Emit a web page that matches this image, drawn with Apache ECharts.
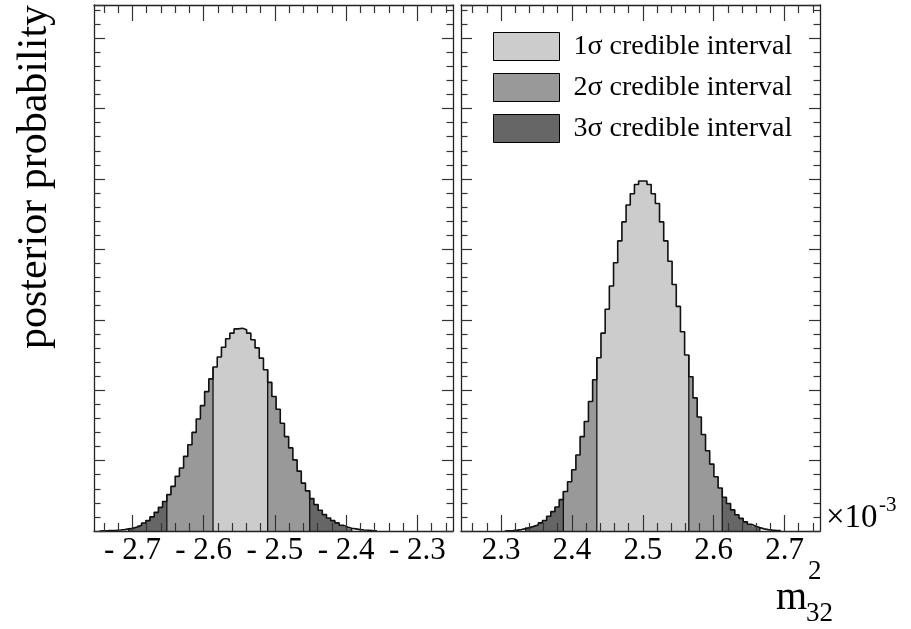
<!DOCTYPE html>
<html>
<head>
<meta charset="utf-8">
<script src="https://cdn.jsdelivr.net/npm/echarts@6/dist/echarts.min.js"></script>
<style>
  html, body { margin: 0; padding: 0; background: #fff; }
  #chart { width: 911px; height: 629px; }
</style>
</head>
<body>
<div id="chart"></div>
<script>
// Posterior of m^2_32 (units of 1e-3), inverted (left) and normal (right) branch
const binWidth = 0.0059;
const leftBinStart = -2.7462;
const rightBinStart = 2.3053;

const leftHeights = [
  0.004, 0.005, 0.007, 0.01, 0.014, 0.02, 0.03, 0.038, 0.058, 0.081, 0.114, 0.147, 0.20, 0.265,
  0.336, 0.42, 0.516, 0.634, 0.776, 0.895, 1.06, 1.225, 1.40, 1.59, 1.78, 1.98, 2.16,
  2.33, 2.47, 2.61, 2.73, 2.81, 2.87, 2.88, 2.857, 2.81, 2.715, 2.60, 2.455, 2.29,
  2.11, 1.91, 1.73, 1.53, 1.34, 1.18, 1.01, 0.85, 0.68, 0.57,
  0.46, 0.375, 0.295, 0.233, 0.185, 0.147, 0.115, 0.081, 0.058, 0.038, 0.03, 0.02, 0.014, 0.01, 0.006, 0.004
];
const rightHeights = [
  0.004, 0.006, 0.012, 0.02, 0.034, 0.048, 0.067, 0.086, 0.115, 0.15, 0.21, 0.275, 0.34, 0.445,
  0.56, 0.70, 0.87, 1.08, 1.34, 1.556, 1.84, 2.147, 2.46, 2.81, 3.15, 3.48, 3.81, 4.12, 4.39, 4.63, 4.79, 4.92, 4.97,
  4.97, 4.92, 4.79, 4.65, 4.39, 4.12, 3.83, 3.50, 3.19, 2.83, 2.50, 2.19, 1.89, 1.62, 1.37, 1.14,
  0.95, 0.77, 0.61, 0.48, 0.39, 0.30, 0.23, 0.18, 0.13, 0.095, 0.067, 0.048, 0.03, 0.02, 0.013, 0.008, 0.005
];

// Credible interval bounds [low, high]
const leftSigma1 = [-2.5869, -2.5102];
const leftSigma2 = [-2.6518, -2.4512];
const leftSigma3 = [-2.7049, -2.3922];
const rightSigma1 = [2.4351, 2.5649];
const rightSigma2 = [2.3879, 2.6121];
const rightSigma3 = [2.3348, 2.6652];

// Axis ranges and ticks
const leftRange = [-2.754, -2.25];
const rightRange = [2.2435, 2.75];
const leftTicks = [-2.7, -2.6, -2.5, -2.4, -2.3];
const rightTicks = [2.3, 2.4, 2.5, 2.6, 2.7];
const leftMinorTicks = [-2.74, -2.72, -2.68, -2.66, -2.64, -2.62, -2.58, -2.56, -2.54, -2.52,
  -2.48, -2.46, -2.44, -2.42, -2.38, -2.36, -2.34, -2.32, -2.28, -2.26];
const rightMinorTicks = [2.26, 2.28, 2.32, 2.34, 2.36, 2.38, 2.42, 2.44, 2.46, 2.48,
  2.52, 2.54, 2.56, 2.58, 2.62, 2.64, 2.66, 2.68, 2.72, 2.74];
const yRange = [0, 7.47];

const seriesNames = ['1σ credible interval', '2σ credible interval', '3σ credible interval'];
const fillColors = ['#cccccc', '#999999', '#666666', '#ffffff'];

const FONT = 'Liberation Serif';
const INK = '#111';

function regionOf(c, s1, s2, s3) {
  if (c > s1[0] && c < s1[1]) return 0;
  if (c > s2[0] && c < s2[1]) return 1;
  if (c > s3[0] && c < s3[1]) return 2;
  return 3;
}

// one filled bin; edges snapped outward to whole pixels so neighbours leave no seam
function binRect(params, api) {
  const p0 = api.coord([api.value(0), 0]);
  const p1 = api.coord([api.value(1), api.value(2)]);
  const xl = Math.floor(p0[0]), xr = Math.ceil(p1[0]);
  return {
    type: 'rect',
    shape: { x: xl, y: p1[1], width: xr - xl, height: p0[1] - p1[1] },
    style: { fill: api.visual('color') }
  };
}

function edgeLine(params, api) {
  const a = api.coord([api.value(0), 0]);
  const b = api.coord([api.value(0), api.value(1)]);
  return {
    type: 'line',
    shape: { x1: a[0], y1: a[1], x2: b[0], y2: b[1] },
    style: { stroke: INK, lineWidth: 1.3 }
  };
}

function panelSeries(p, start, heights, s1, s2, s3) {
  const out = [];
  const groups = [[], [], [], []];
  heights.forEach((h, i) => {
    const x0 = start + i * binWidth, x1 = x0 + binWidth;
    groups[regionOf((x0 + x1) / 2, s1, s2, s3)].push([x0, x1, h]);
  });
  // draw outer regions first so inner ones cover shared pixels
  [3, 2, 1, 0].forEach(g => {
    out.push({
      type: 'custom',
      name: g < 3 ? seriesNames[g] : 'outside',
      xAxisIndex: 4 * p, yAxisIndex: 2 * p,
      renderItem: binRect,
      itemStyle: { color: fillColors[g], borderColor: '#000', borderWidth: 1 },
      encode: { x: [0, 1], y: 2 },
      data: groups[g], z: 1, silent: true, clip: true
    });
  });
  // histogram outline
  const n = heights.length;
  const outline = [[start, 0]];
  heights.forEach((h, i) => outline.push([start + i * binWidth, h]));
  outline.push([start + n * binWidth, heights[n - 1]]);
  outline.push([start + n * binWidth, 0]);
  out.push({
    type: 'line', step: 'end', data: outline, symbol: 'none', silent: true,
    xAxisIndex: 4 * p, yAxisIndex: 2 * p, z: 3,
    lineStyle: { color: INK, width: 1.6 }
  });
  // vertical lines at interval boundaries
  const edges = [s1[0], s1[1], s2[0], s2[1], s3[0], s3[1]].map(e => {
    const k = Math.round((e - start) / binWidth);
    return [e, Math.max(heights[k - 1] || 0, heights[k] || 0)];
  });
  out.push({
    type: 'custom', renderItem: edgeLine, data: edges, silent: true,
    xAxisIndex: 4 * p, yAxisIndex: 2 * p, z: 3, encode: { x: 0, y: 1 }
  });
  return out;
}

function xAxes(p, range, ticks, minors) {
  const base = {
    gridIndex: p, type: 'value', min: range[0], max: range[1], z: 10,
    splitLine: { show: false }
  };
  const line = { show: true, onZero: false, lineStyle: { color: '#222', width: 1.3 } };
  const tickStyle = { color: '#333', width: 1.2 };
  const fmt = v => (v < 0 ? '- ' + Math.abs(v).toFixed(1) : v.toFixed(1));
  return [
    Object.assign({}, base, {
      position: 'bottom', axisLine: line,
      axisTick: { show: true, inside: true, length: 16, customValues: ticks, lineStyle: tickStyle },
      axisLabel: { show: true, customValues: ticks, formatter: fmt, margin: 4,
        fontFamily: FONT, fontSize: 31, color: '#000' }
    }),
    Object.assign({}, base, {
      position: 'bottom', axisLine: { show: false, onZero: false },
      axisTick: { show: true, inside: true, length: 8, customValues: minors, lineStyle: tickStyle },
      axisLabel: { show: false }
    }),
    Object.assign({}, base, {
      position: 'top', axisLine: line,
      axisTick: { show: true, inside: true, length: 16, customValues: ticks, lineStyle: tickStyle },
      axisLabel: { show: false }
    }),
    Object.assign({}, base, {
      position: 'top', axisLine: { show: false, onZero: false },
      axisTick: { show: true, inside: true, length: 8, customValues: minors, lineStyle: tickStyle },
      axisLabel: { show: false }
    })
  ];
}

function yAxes(p) {
  const make = pos => ({
    gridIndex: p, type: 'value', position: pos, min: yRange[0], max: yRange[1], interval: 1, z: 10,
    axisLine: { show: true, onZero: false, lineStyle: { color: '#222', width: 1.3 } },
    axisTick: { show: true, inside: true, length: 11, lineStyle: { color: '#333', width: 1.2 } },
    minorTick: { show: true, splitNumber: 5, length: 6.5, lineStyle: { color: '#333', width: 1.2 } },
    axisLabel: { show: false },
    splitLine: { show: false }
  });
  return [make('left'), make('right')];
}

const chart = echarts.init(document.getElementById('chart'), null, { renderer: 'canvas' });

const textEl = (text, x, y, size, extra) => Object.assign({
  type: 'text', x: x, y: y, silent: true,
  style: { text: text, font: size + 'px "' + FONT + '"', fill: '#000',
    textAlign: 'left', textVerticalAlign: 'middle', align: 'left', verticalAlign: 'middle' }
}, extra || {});

chart.setOption({
  animation: false,
  backgroundColor: '#fff',
  grid: [
    { left: 94, top: 5, width: 359, height: 526 },
    { left: 461, top: 5, width: 359, height: 526 }
  ],
  xAxis: [].concat(xAxes(0, leftRange, leftTicks, leftMinorTicks), xAxes(1, rightRange, rightTicks, rightMinorTicks)),
  yAxis: [].concat(yAxes(0), yAxes(1)),
  legend: {
    data: seriesNames, left: 493, top: 32, padding: 0,
    orient: 'vertical', icon: 'rect', itemWidth: 66, itemHeight: 28, itemGap: 12,
    selectedMode: false,
    itemStyle: { borderColor: '#000', borderWidth: 1 },
    textStyle: { fontFamily: FONT, fontSize: 28, color: '#000', padding: [0, 0, 0, 9] }
  },
  series: [].concat(
    panelSeries(0, leftBinStart, leftHeights, leftSigma1, leftSigma2, leftSigma3),
    panelSeries(1, rightBinStart, rightHeights, rightSigma1, rightSigma2, rightSigma3)
  ),
  graphic: [
    textEl('posterior probability', 35, 177, 42,
      { rotation: Math.PI / 2, style: { text: 'posterior probability', font: '42px "' + FONT + '"', fill: '#000',
        textAlign: 'center', align: 'center', textVerticalAlign: 'middle', verticalAlign: 'middle' } }),
    textEl('×10', 826, 518, 33),
    textEl('-3', 879, 505, 21),
    textEl('m', 776, 598, 40),
    textEl('2', 808, 572, 27),
    textEl('32', 806, 614, 27)
  ]
});
</script>
</body>
</html>
